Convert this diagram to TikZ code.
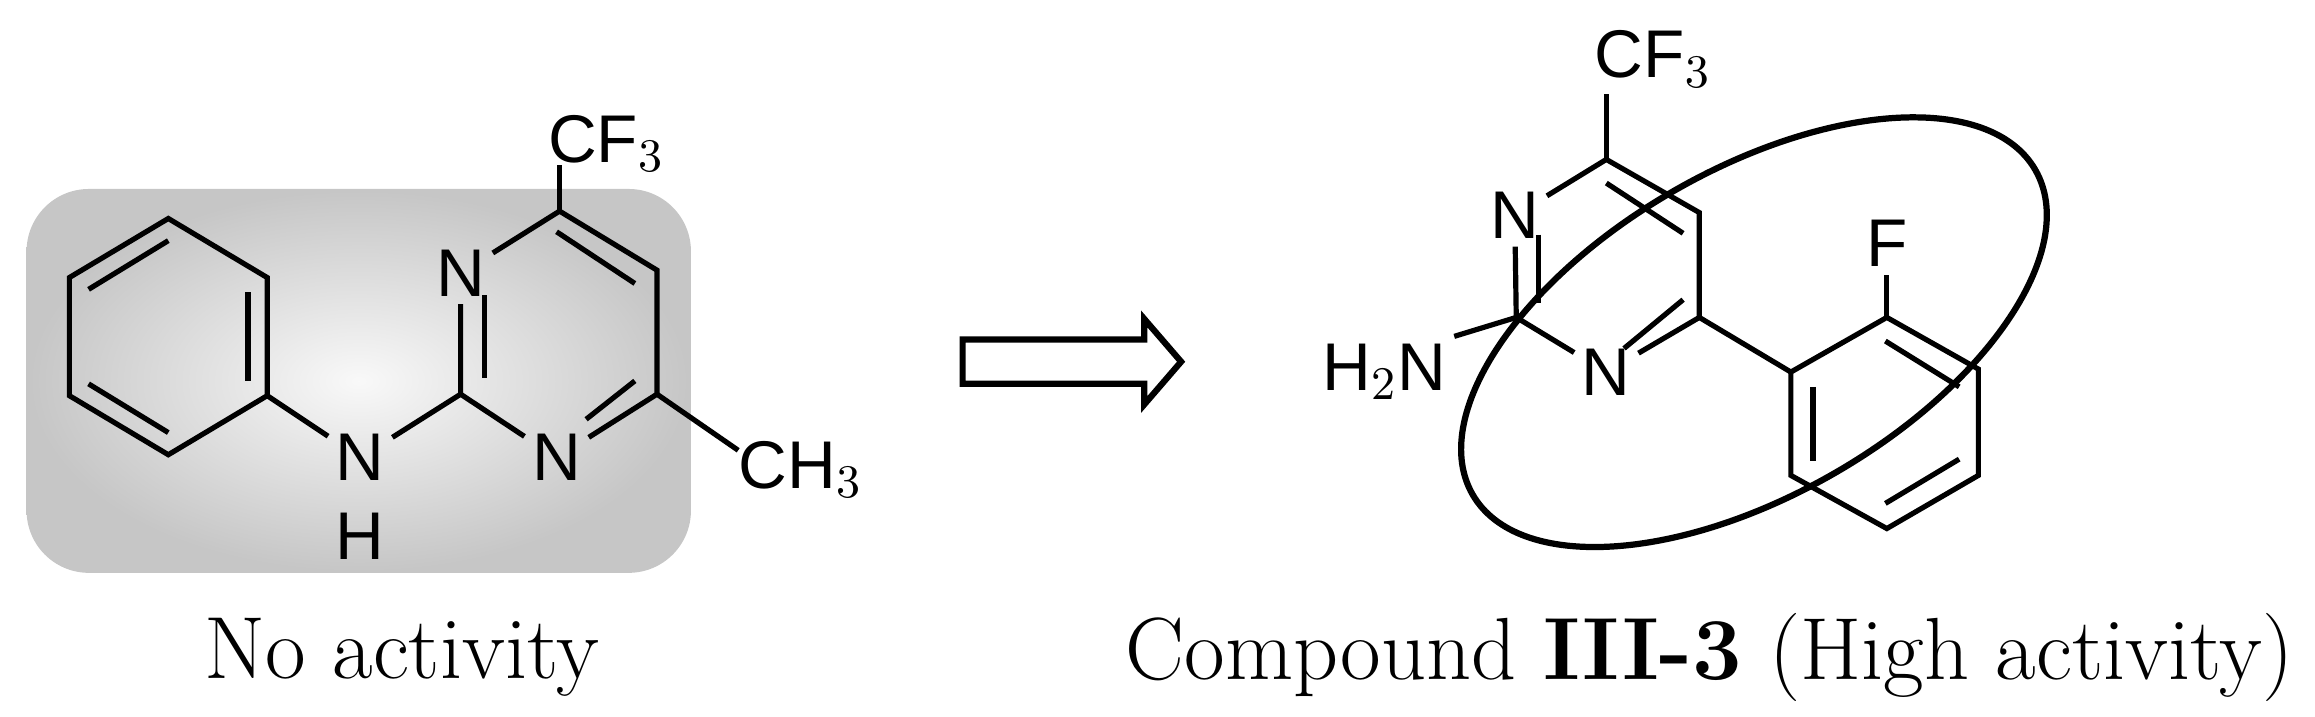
\documentclass[tikz,border=0pt]{standalone}
\usepackage{fontspec}
\setmainfont{Latin Modern Roman}
\newfontfamily\chemf{Liberation Sans}
\begin{document}
\begin{tikzpicture}[x=0.01cm,y=-0.01cm,line width=1pt,
  atm/.style={font=\chemf\fontsize{13}{13}\selectfont,inner sep=1pt},
  captext/.style={font=\fontsize{17}{17}\selectfont}]
\useasboundingbox (0,0) rectangle (1568,485);
% gray box
\shade[rounded corners=12, inner color=gray!5, outer color=gray!45] (18,128) rectangle (468,388);
% left benzene
\coordinate (b1) at (114,148); \coordinate (b2) at (181,188); \coordinate (b3) at (181,268);
\coordinate (b4) at (114,308); \coordinate (b5) at (47,268); \coordinate (b6) at (47,188);
\draw (b1)--(b2)--(b3)--(b4)--(b5)--(b6)--cycle;
\draw (60,196)--(114,163);
\draw (168,198)--(168,258);
\draw (60,260)--(114,293);
% pyrimidine left
\coordinate (p1) at (379,143); \coordinate (p2) at (445,183); \coordinate (p3) at (445,267);
\coordinate (p5) at (312,267);
\node[atm] (N3) at (312,185) {N};
\node[atm] (N1) at (377,310) {N};
\node[atm] (NH) at (244,310) {N};
\node[atm] (H) at (244,363) {H};
\node[atm,anchor=west] (cf3) at (366,97) {CF$_3$};
\node[atm,anchor=west] (ch3) at (495,318) {CH$_3$};
\draw (N3)--(p1)--(p2)--(p3)--(N1)--(p5)--(N3);
\draw (p5)--(NH)--(b3);
\draw (p1)--(379,112);
\draw (p3)--(500,305);
\draw (328,200)--(328,256);
\draw (377,157)--(430,192);
\draw (430,258)--(397,284);
% arrow
\draw[line width=1.2pt] (652,230)--(775,230)--(775,216)--(800,245)--(775,274)--(775,260)--(652,260)--cycle;
% right molecule
\coordinate (q1) at (1088,108); \coordinate (q2) at (1151,144); \coordinate (q3) at (1151,215);
\coordinate (q5) at (1027,215);
\node[atm] (rN3) at (1026,146) {N};
\node[atm] (rN1) at (1088,252) {N};
\node[atm,anchor=west] (rcf3) at (1075,40) {CF$_3$};
\node[atm,anchor=east] (nh2) at (985,252) {H$_2$N};
\draw (rN3)--(q1)--(q2)--(q3)--(rN1)--(q5)--(rN3);
\draw (q1)--(1088,64);
\draw (q5)--(nh2.north east);
\draw (1042,159)--(1042,205);
\draw (1088,124)--(1140,158);
\draw (1140,203)--(1100,236);
\coordinate (r1) at (1213,252); \coordinate (r2) at (1278,215); \coordinate (r3) at (1340,250);
\coordinate (r4) at (1340,322); \coordinate (r5) at (1278,358); \coordinate (r6) at (1213,322);
\node[atm] (F) at (1278,165) {F};
\draw (r1)--(r2)--(r3)--(r4)--(r5)--(r6)--cycle;
\draw (q3)--(r1); \draw (r2)--(F);
\draw (1277,231)--(1327,262);
\draw (1327,311)--(1277,341);
\draw (1228,262)--(1228,312);
\draw[line width=1.2pt,rotate around={30:(1188,225)}] (1188,225) ellipse (220 and 110);
% captions
\node[captext] (c1) at (272,445) {No activity};
\node[captext] (c2) at (1158,445) {Compound \textbf{III-3} (High activity)};
\end{tikzpicture}
\end{document}
